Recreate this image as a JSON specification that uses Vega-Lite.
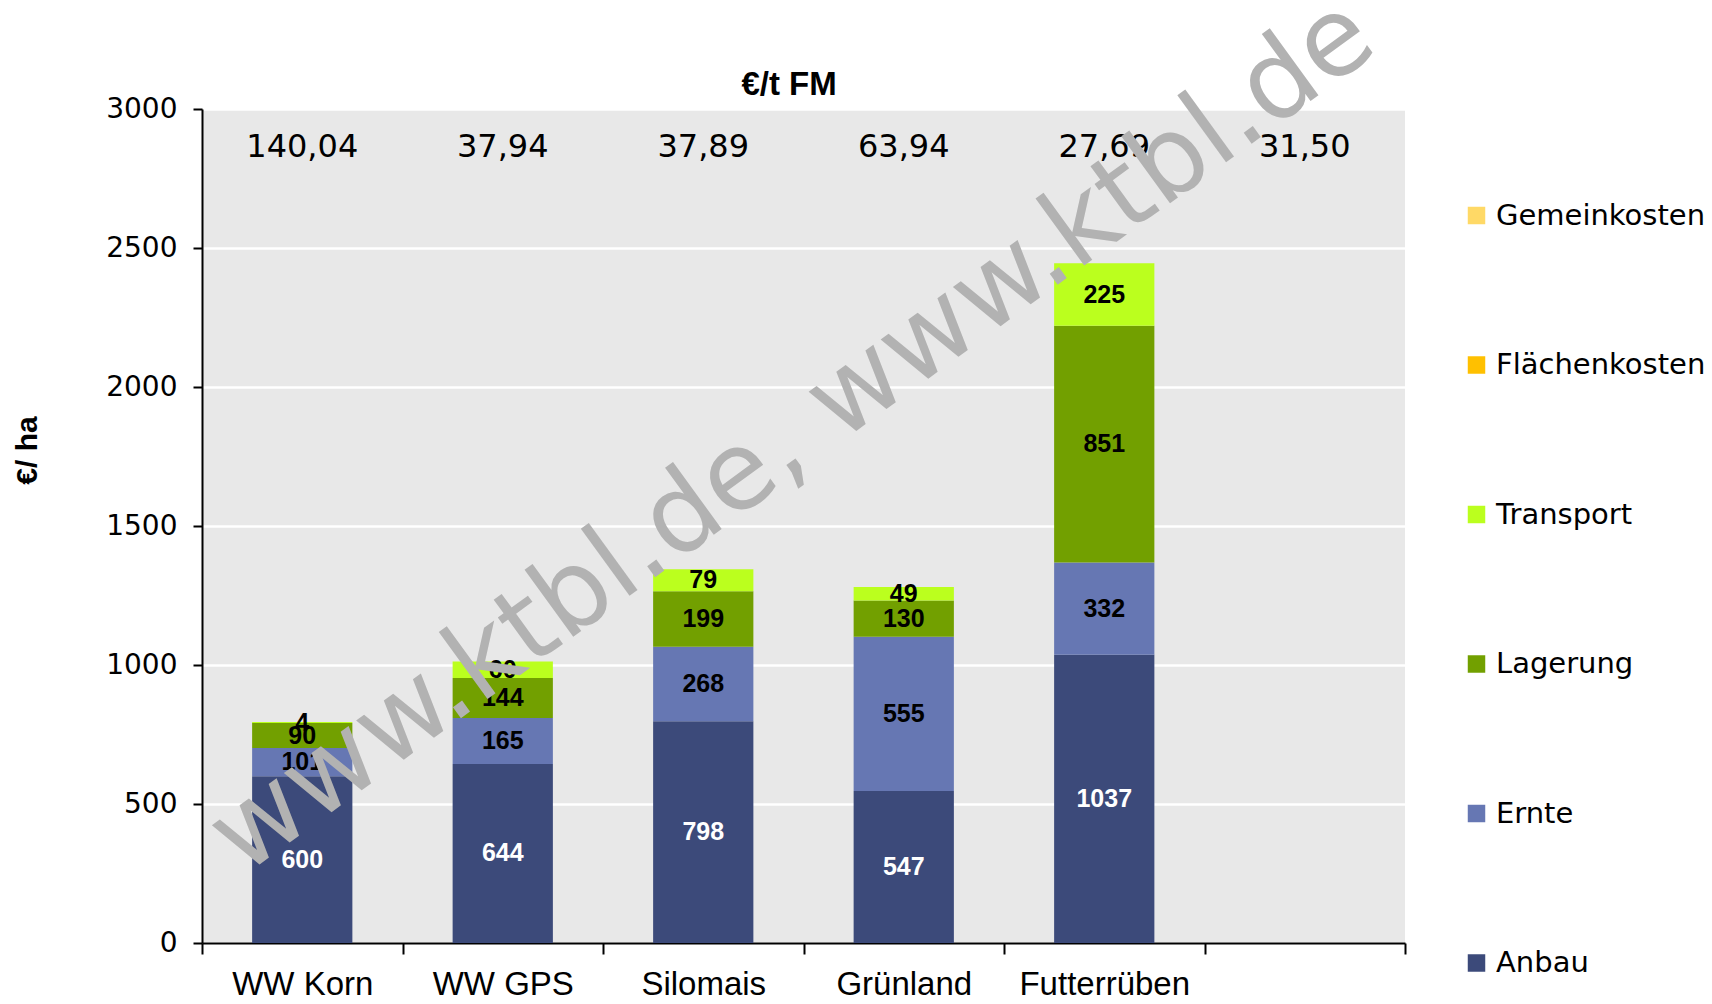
{
  "$schema": "https://vega.github.io/schema/vega-lite/v6.json",
  "autosize": {"type": "none"},
  "padding": {"left": 202, "top": 109, "right": 307, "bottom": 61},
  "width": 1203,
  "height": 834,
  "background": "white",
  "datasets": {
    "costs": [
      {"crop": "WW Korn", "cost": "Anbau", "value": 600, "rank": 1},
      {"crop": "WW Korn", "cost": "Ernte", "value": 101, "rank": 2},
      {"crop": "WW Korn", "cost": "Lagerung", "value": 90, "rank": 3},
      {"crop": "WW Korn", "cost": "Transport", "value": 4, "rank": 4},
      {"crop": "WW GPS", "cost": "Anbau", "value": 644, "rank": 1},
      {"crop": "WW GPS", "cost": "Ernte", "value": 165, "rank": 2},
      {"crop": "WW GPS", "cost": "Lagerung", "value": 144, "rank": 3},
      {"crop": "WW GPS", "cost": "Transport", "value": 60, "rank": 4},
      {"crop": "Silomais", "cost": "Anbau", "value": 798, "rank": 1},
      {"crop": "Silomais", "cost": "Ernte", "value": 268, "rank": 2},
      {"crop": "Silomais", "cost": "Lagerung", "value": 199, "rank": 3},
      {"crop": "Silomais", "cost": "Transport", "value": 79, "rank": 4},
      {"crop": "Grünland", "cost": "Anbau", "value": 547, "rank": 1},
      {"crop": "Grünland", "cost": "Ernte", "value": 555, "rank": 2},
      {"crop": "Grünland", "cost": "Lagerung", "value": 130, "rank": 3},
      {"crop": "Grünland", "cost": "Transport", "value": 49, "rank": 4},
      {"crop": "Futterrüben", "cost": "Anbau", "value": 1037, "rank": 1},
      {"crop": "Futterrüben", "cost": "Ernte", "value": 332, "rank": 2},
      {"crop": "Futterrüben", "cost": "Lagerung", "value": 851, "rank": 3},
      {"crop": "Futterrüben", "cost": "Transport", "value": 225, "rank": 4}
    ],
    "fm": [
      {"crop": "WW Korn", "eurot": 140.04},
      {"crop": "WW GPS", "eurot": 37.94},
      {"crop": "Silomais", "eurot": 37.89},
      {"crop": "Grünland", "eurot": 63.94},
      {"crop": "Futterrüben", "eurot": 27.69},
      {"crop": " ", "eurot": 31.50}
    ]
  },
  "config": {
    "view": {"fill": "#E8E8E8", "stroke": null},
    "locale": {"number": {"decimal": ",", "thousands": ".", "grouping": [3], "currency": ["", " €"]}}
  },
  "layer": [
    {
      "data": {"name": "costs"},
      "mark": {"type": "bar", "width": {"band": 0.5}},
      "encoding": {
        "x": {
          "field": "crop", "type": "nominal",
          "scale": {"domain": ["WW Korn", "WW GPS", "Silomais", "Grünland", "Futterrüben", " "], "paddingInner": 0, "paddingOuter": 0},
          "axis": {"title": null, "labelFont": "Liberation Sans", "labelFontSize": 33, "labelColor": "black", "labelBaseline": "alphabetic", "labelPadding": 40, "labelAngle": 0, "tickBand": "extent", "tickSize": 11, "tickColor": "black", "tickWidth": 2, "domainColor": "black", "domainWidth": 2, "grid": false}
        },
        "y": {
          "field": "value", "type": "quantitative", "stack": "zero",
          "scale": {"domain": [0, 3000], "nice": false},
          "axis": {"title": "€/ ha", "titleFont": "Liberation Sans", "titleFontSize": 30, "titleFontWeight": "bold", "titleColor": "black", "titleAngle": 270, "titleX": -175, "titleY": 341, "titleAlign": "center", "titleBaseline": "middle", "values": [0, 500, 1000, 1500, 2000, 2500, 3000], "format": "d", "labelFont": "DejaVu Sans", "labelFontSize": 28, "labelColor": "black", "labelPadding": 16, "tickSize": 9, "tickColor": "black", "tickWidth": 2, "domainColor": "black", "domainWidth": 2, "grid": true, "gridColor": "white", "gridWidth": 2.5}
        },
        "color": {
          "field": "cost", "type": "nominal",
          "scale": {"domain": ["Gemeinkosten", "Flächenkosten", "Transport", "Lagerung", "Ernte", "Anbau"], "range": ["#FFD966", "#FFC000", "#BBFF1E", "#72A000", "#6677B3", "#3C4A7A"]},
          "legend": {"orient": "none", "legendX": 1260, "legendY": 92, "title": null, "symbolType": "square", "symbolSize": 306, "symbolStrokeWidth": 0, "labelFont": "DejaVu Sans", "labelFontSize": 29, "labelColor": "black", "labelLimit": 400, "rowPadding": 119.5, "labelOffset": 5, "padding": 0}
        },
        "order": {"field": "rank", "type": "quantitative", "sort": "ascending"}
      }
    },
    {
      "data": {"name": "costs"},
      "mark": {"type": "text", "font": "Liberation Sans", "fontSize": 25, "fontWeight": "bold", "baseline": "middle", "align": "center"},
      "encoding": {
        "x": {"field": "crop", "type": "nominal"},
        "y": {"field": "value", "type": "quantitative", "stack": "zero", "bandPosition": 0.5},
        "detail": {"field": "cost", "type": "nominal"},
        "order": {"field": "rank", "type": "quantitative", "sort": "ascending"},
        "text": {"field": "value", "type": "quantitative", "format": "d"},
        "color": {"condition": {"test": "datum.cost === 'Anbau'", "value": "white"}, "value": "black"}
      }
    },
    {
      "data": {"name": "fm"},
      "mark": {"type": "text", "font": "DejaVu Sans", "fontSize": 32, "baseline": "alphabetic", "align": "center", "color": "black"},
      "encoding": {
        "x": {"field": "crop", "type": "nominal"},
        "y": {"datum": 2827},
        "text": {"field": "eurot", "type": "quantitative", "format": ".2f"}
      }
    },
    {
      "data": {"values": [{"t": "€/t FM"}]},
      "mark": {"type": "text", "font": "Liberation Sans", "fontSize": 33, "fontWeight": "bold", "baseline": "alphabetic", "align": "center", "color": "black"},
      "encoding": {
        "x": {"datum": "Silomais", "bandPosition": 0.928},
        "y": {"datum": 3050},
        "text": {"field": "t", "type": "nominal"}
      }
    },
    {
      "data": {"values": [{"wm": "www.ktbl.de, www.ktbl.de"}]},
      "mark": {"type": "text", "font": "DejaVu Sans", "fontSize": 109, "angle": -36, "color": "#B2B2B2", "align": "center", "baseline": "alphabetic"},
      "encoding": {
        "x": {"datum": "Silomais", "bandPosition": 1.042},
        "y": {"datum": 1726},
        "text": {"field": "wm", "type": "nominal"}
      }
    }
  ]
}
